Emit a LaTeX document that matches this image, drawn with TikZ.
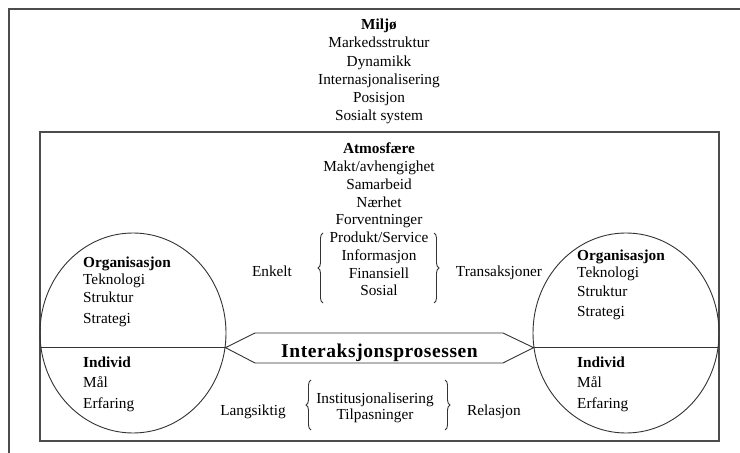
\documentclass[tikz,border=0pt]{standalone}
\usepackage{fontspec}
\setmainfont{Liberation Serif}
\usetikzlibrary{shapes.geometric,decorations.pathreplacing}
\begin{document}
\begin{tikzpicture}[x=1bp,y=-1bp,line join=miter]
\tikzset{
  frame/.style={draw=black!70, line width=1.3bp},
  thin/.style={draw=black!80, line width=0.9bp},
  ring/.style={thin, ellipse, minimum width=186bp, minimum height=200bp, inner sep=0pt},
  lbl/.style={font=\fontsize{15.3bp}{18bp}\selectfont, inner sep=0pt, anchor=base},
  lblb/.style={lbl, font=\fontsize{15.3bp}{18bp}\selectfont\bfseries},
  lblw/.style={lbl, anchor=base west},
  lblwb/.style={lblb, anchor=base west},
  curly/.style={thin, decorate, decoration={brace, amplitude=5bp}},
}
\useasboundingbox (0,0) rectangle (740,453);
\fill[white] (0,0) rectangle (740,453);
% outer frame
\coordinate (o1) at (9,453);
\coordinate (o2) at (9,9);
\coordinate (o3) at (740,9);
\draw[frame] (o1) -- (o2) -- (o3);
% inner box
\node[frame, rectangle, minimum width=679bp, minimum height=309bp, inner sep=0pt] (inner) at (379.5,286.5) {};
% circles
\node[ring] (lc) at (133,333) {};
\node[ring] (rc) at (626,333) {};
\draw[thin] (lc.189.27) -- (lc.-9.27);
\draw[thin] (rc.189.27) -- (rc.-9.27);
% process hexagon
\coordinate (h1) at (255,333);
\coordinate (h2) at (503,333);
\coordinate (h3) at (503,363);
\coordinate (h4) at (255,363);
\draw[thin] (lc.-9.27) -- (h1) -- (h2) -- (rc.189.27) -- (h3) -- (h4) -- cycle;
\node[font=\fontsize{19.5bp}{22bp}\selectfont\bfseries\addfontfeature{LetterSpace=3}, anchor=base, inner sep=0pt] (proc) at (379.5,358) {Interaksjonsprosessen};
% environment
\node[lblb] (env0) at (379,29.5) {Miljø};
\foreach \t [count=\i] in {Markedsstruktur, Dynamikk, Internasjonalisering, Posisjon, Sosialt system}
  \node[lbl] (env\i) at (379,{29.5+18.3*\i}) {\t};
% atmosphere
\node[lblb] (atm0) at (379,154) {Atmosfære};
\foreach \t [count=\i] in {Makt/avhengighet, Samarbeid, Nærhet, Forventninger, Produkt/Service, Informasjon, Finansiell, Sosial}
  \node[lbl] (atm\i) at (379,{154+17.75*\i}) {\t};
% braces upper
\coordinate (b1s) at (323,303); \coordinate (b1e) at (323,233);
\coordinate (b2s) at (434,233); \coordinate (b2e) at (434,303);
\draw[curly] (b1s) -- (b1e);
\draw[curly] (b2s) -- (b2e);
\node[lbl] (enkelt) at (272,277) {Enkelt};
\node[lbl] (trans) at (499,277) {Transaksjoner};
% lower
\coordinate (b3s) at (311,430); \coordinate (b3e) at (311,380);
\coordinate (b4s) at (445,380); \coordinate (b4e) at (445,430);
\draw[curly] (b3s) -- (b3e);
\draw[curly] (b4s) -- (b4e);
\node[lbl] (inst) at (375,403) {Institusjonalisering};
\node[lbl] (tilp) at (375,419) {Tilpasninger};
\node[lbl] (lang) at (253,415) {Langsiktig};
\node[lbl] (rel) at (494,415) {Relasjon};
% left circle texts
\node[lblwb] (lo) at (83,268) {Organisasjon};
\node[lblw] (lt) at (83,285) {Teknologi};
\node[lblw] (ls) at (83,303) {Struktur};
\node[lblw] (lst) at (83,324) {Strategi};
\node[lblwb] (li) at (83,368) {Individ};
\node[lblw] (lm) at (83,387) {Mål};
\node[lblw] (le) at (83,408) {Erfaring};
% right circle texts
\node[lblwb] (ro) at (577,261) {Organisasjon};
\node[lblw] (rt) at (577,278) {Teknologi};
\node[lblw] (rs) at (577,297) {Struktur};
\node[lblw] (rst) at (577,317) {Strategi};
\node[lblwb] (ri) at (577,368) {Individ};
\node[lblw] (rm) at (577,387) {Mål};
\node[lblw] (re) at (577,408) {Erfaring};
\end{tikzpicture}
\end{document}
